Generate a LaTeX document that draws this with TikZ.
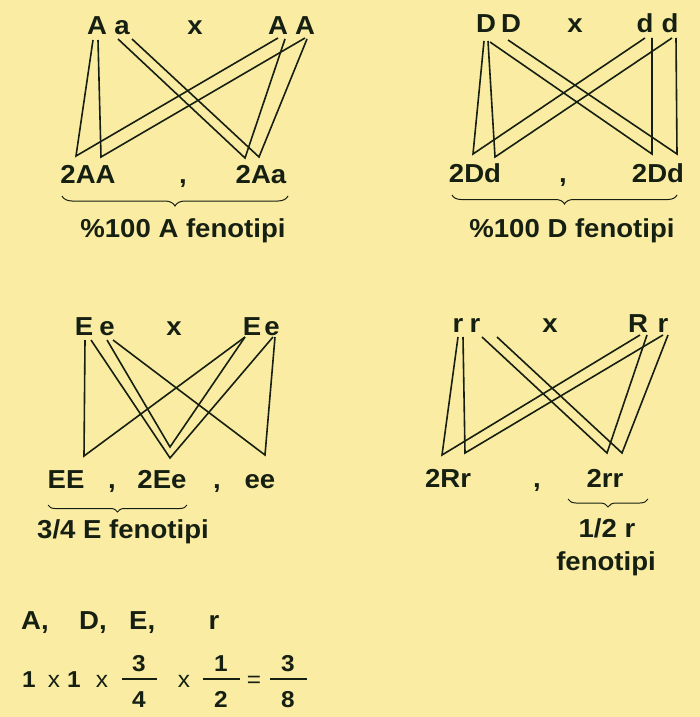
\documentclass[tikz,border=0pt]{standalone}
\usepackage{fontspec}
\setmainfont{Liberation Sans}[FakeStretch=1.06]
\usetikzlibrary{decorations.pathreplacing}
\definecolor{bg}{RGB}{251,236,163}
\definecolor{ink}{RGB}{22,32,18}
\tikzset{
  lab/.style={font=\fontsize{26}{29}\selectfont\bfseries, text=ink, anchor=base, inner sep=0pt},
  sm/.style={font=\fontsize{23}{26}\selectfont\bfseries, text=ink, anchor=base, inner sep=0pt},
  thinx/.style={font=\fontsize{23}{26}\selectfont, text=ink, anchor=base, inner sep=0pt},
  cross/.style={draw=ink, line width=1.6pt},
  ubrace/.style={draw=ink, line width=1pt, decorate, decoration={brace, mirror, amplitude=#1}},
  ubrace/.default=8pt,
  fbar/.style={draw=ink, line width=1.7pt}
}
\begin{document}
\begin{tikzpicture}[x=1pt,y=-1pt]
\fill[bg] (0,0) rectangle (700,717);
\useasboundingbox (0,0) rectangle (700,717);

% ---------------- Panel 1 : Aa x AA ----------------
\node[lab] (A11) at (97,35) {A};
\node[lab] (a12) at (122,35) {a};
\node[lab] (x1) at (195,35) {x};
\node[lab] (A13) at (278,35) {A};
\node[lab] (A14) at (305,35) {A};
\coordinate (p1a) at (93,40);  \coordinate (p1b) at (98,40);
\coordinate (p1c) at (118,39); \coordinate (p1d) at (132,39);
\coordinate (p1e) at (278,38); \coordinate (p1f) at (285,39);
\coordinate (p1g) at (305,38); \coordinate (p1h) at (307,39);
\coordinate (v1a) at (76,156);  \coordinate (v1b) at (101,157);
\coordinate (v1c) at (245,158); \coordinate (v1d) at (259,157);
\draw[cross] (p1a) -- (v1a) -- (p1e);
\draw[cross] (p1b) -- (v1b) -- (p1g);
\draw[cross] (p1c) -- (v1c) -- (p1f);
\draw[cross] (p1d) -- (v1d) -- (p1h);
\node[lab] (o1a) at (88,183) {2AA};
\node[lab] (c1) at (183,183) {,};
\node[lab] (o1b) at (261,183) {2Aa};
\coordinate (b1l) at (62,196); \coordinate (b1r) at (288,196);
\draw[ubrace=10pt] (b1l) -- (b1r);
\node[lab] (f1) at (183,237) {\%100 A fenotipi};

% ---------------- Panel 2 : DD x dd ----------------
\node[lab] (D21) at (486,33) {D};
\node[lab] (D22) at (511,33) {D};
\node[lab] (x2) at (575,33) {x};
\node[lab] (d23) at (645,33) {d};
\node[lab] (d24) at (670,33) {d};
\coordinate (q1) at (484,41); \coordinate (q2) at (488,41);
\coordinate (q3) at (490,42); \coordinate (q4) at (508,40);
\coordinate (q5) at (645,38); \coordinate (q6) at (652,38);
\coordinate (q7) at (672,38); \coordinate (q8) at (676,38);
\coordinate (w1) at (473,154); \coordinate (w2) at (495,157);
\coordinate (w3) at (652,154); \coordinate (w4) at (677,154);
\draw[cross] (q1) -- (w1) -- (q5);
\draw[cross] (q2) -- (w2) -- (q7);
\draw[cross] (q3) -- (w3) -- (q6);
\draw[cross] (q4) -- (w4) -- (q8);
\node[lab] (o2a) at (475,182) {2Dd};
\node[lab] (c2) at (563,182) {,};
\node[lab] (o2b) at (658,182) {2Dd};
\coordinate (b2l) at (452,195); \coordinate (b2r) at (677,195);
\draw[ubrace=9pt] (b2l) -- (b2r);
\node[lab] (f2) at (572,237) {\%100 D fenotipi};

% ---------------- Panel 3 : Ee x Ee ----------------
\node[lab] (E31) at (84,335) {E};
\node[lab] (e32) at (107,335) {e};
\node[lab] (x3) at (174,335) {x};
\node[lab] (E33) at (252,335) {E};
\node[lab] (e34) at (272,335) {e};
\coordinate (s3a) at (85,340);  \coordinate (s3b) at (91,340);
\coordinate (s3c) at (107,340); \coordinate (s3d) at (113,340);
\coordinate (s3e) at (245,337); \coordinate (s3f) at (273,337);
\coordinate (s3g) at (275,337);
\coordinate (u3a) at (84,456);  \coordinate (u3b) at (170,447);
\coordinate (u3c) at (170,458); \coordinate (u3d) at (265,455);
\draw[cross] (s3a) -- (u3a) -- (s3e);
\draw[cross] (s3c) -- (u3b) -- (s3e);
\draw[cross] (s3b) -- (u3c) -- (s3f);
\draw[cross] (s3d) -- (u3d) -- (s3g);
\node[lab] (o3a) at (66,488) {EE};
\node[lab] (c3a) at (112,488) {,};
\node[lab] (o3b) at (162,488) {2Ee};
\node[lab] (c3b) at (217,488) {,};
\node[lab] (o3c) at (260,488) {ee};
\coordinate (b3l) at (48,505); \coordinate (b3r) at (187,505);
\draw[ubrace=7pt] (b3l) -- (b3r);
\node[lab] (f3) at (123,538) {3/4 E fenotipi};

% ---------------- Panel 4 : rr x Rr ----------------
\node[lab] (r41) at (458,332) {r};
\node[lab] (r42) at (475,332) {r};
\node[lab] (x4) at (550,332) {x};
\node[lab] (R43) at (638,332) {R};
\node[lab] (r44) at (663,332) {r};
\coordinate (t4a) at (458,337); \coordinate (t4b) at (463,337);
\coordinate (t4c) at (482,337); \coordinate (t4d) at (497,337);
\coordinate (t4e) at (640,335); \coordinate (t4f) at (647,335);
\coordinate (t4g) at (663,335); \coordinate (t4h) at (668,335);
\coordinate (k4a) at (442,455); \coordinate (k4b) at (465,453);
\coordinate (k4c) at (607,453); \coordinate (k4d) at (622,453);
\draw[cross] (t4a) -- (k4a) -- (t4e);
\draw[cross] (t4b) -- (k4b) -- (t4g);
\draw[cross] (t4c) -- (k4c) -- (t4f);
\draw[cross] (t4d) -- (k4d) -- (t4h);
\node[lab] (o4a) at (448,487) {2Rr};
\node[lab] (c4) at (537,487) {,};
\node[lab] (o4b) at (605,487) {2rr};
\coordinate (b4l) at (568,499); \coordinate (b4r) at (648,499);
\draw[ubrace=8pt] (b4l) -- (b4r);
\node[lab] (f4a) at (607,537) {1/2 r};
\node[lab] (f4b) at (606,570) {fenotipi};

% ---------------- Bottom : product ----------------
\node[lab, anchor=base west] (gA) at (21,629) {A,};
\node[lab, anchor=base west] (gD) at (79,629) {D,};
\node[lab, anchor=base west] (gE) at (129,629) {E,};
\node[lab] (gr) at (214,629) {r};

\node[sm] (n1) at (29,687) {1};
\node[thinx] (m1) at (54,687) {x};
\node[sm] (n2) at (74,687) {1};
\node[thinx] (m2) at (102,687) {x};
\node[sm] (fa1) at (139,671) {3};
\coordinate (fb1l) at (122,679); \coordinate (fb1r) at (157,679);
\draw[fbar] (fb1l) -- (fb1r);
\node[sm] (fa2) at (139,707) {4};
\node[thinx] (m3) at (184,687) {x};
\node[sm] (fc1) at (221,671) {1};
\coordinate (fb2l) at (203,679); \coordinate (fb2r) at (240,679);
\draw[fbar] (fb2l) -- (fb2r);
\node[sm] (fc2) at (221,707) {2};
\node[thinx] (eq) at (254,687) {=};
\node[sm] (fd1) at (288,671) {3};
\coordinate (fb3l) at (270,679); \coordinate (fb3r) at (307,679);
\draw[fbar] (fb3l) -- (fb3r);
\node[sm] (fd2) at (288,707) {8};
\end{tikzpicture}
\end{document}
